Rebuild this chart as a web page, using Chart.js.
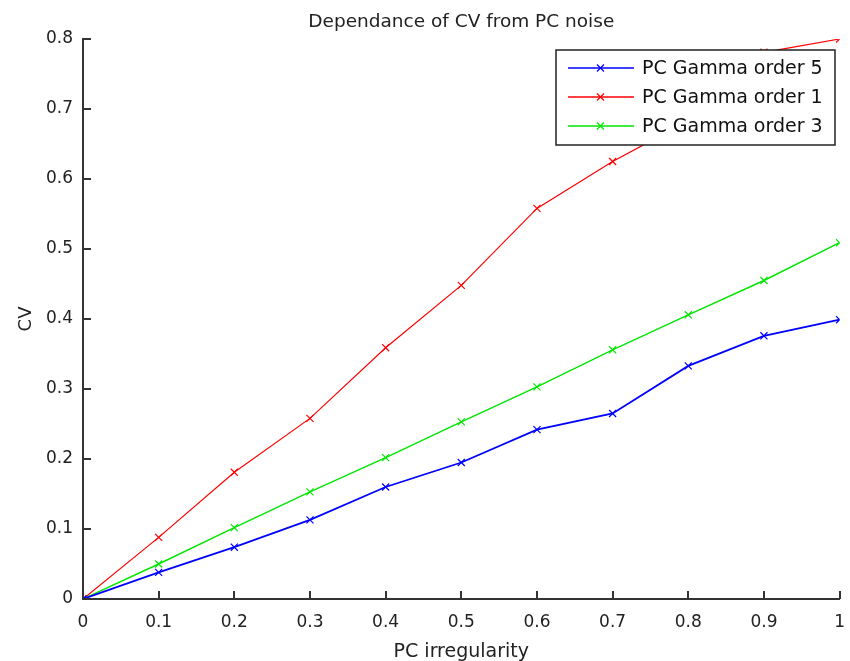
<!DOCTYPE html>
<html>
<head>
<meta charset="utf-8">
<script src="https://cdn.jsdelivr.net/npm/chart.js@4.4.1/dist/chart.umd.min.js"></script>
<style>
  html, body { margin: 0; padding: 0; background: #fff; }
  #wrap { width: 850px; height: 661px; }
</style>
</head>
<body>
<div id="wrap"><canvas id="myChart" width="850" height="661"></canvas></div>
<script>
const xValues = [0, 0.1, 0.2, 0.3, 0.4, 0.5, 0.6, 0.7, 0.8, 0.9, 1.0];
const gamma5 = [0, 0.038, 0.074, 0.113, 0.160, 0.195, 0.242, 0.265, 0.333, 0.376, 0.399];
const gamma1 = [0, 0.088, 0.181, 0.258, 0.359, 0.448, 0.558, 0.625, 0.683, 0.781, 0.800];
const gamma3 = [0, 0.050, 0.102, 0.153, 0.202, 0.253, 0.303, 0.356, 0.406, 0.455, 0.509];
const seriesNames = ['PC Gamma order 5', 'PC Gamma order 1', 'PC Gamma order 3'];
const titleText = 'Dependance of CV from PC noise';
const xLabel = 'PC irregularity';
const yLabel = 'CV';

const FONT = '"DejaVu Sans", "Liberation Sans", sans-serif';

function toPoints(ys) {
    return xValues.map((x, i) => ({ x: x, y: ys[i] }));
}

function makeSet(label, ys, color, width) {
    return {
        label: label,
        data: toPoints(ys),
        borderColor: color,
        backgroundColor: color,
        borderWidth: width,
        pointStyle: 'crossRot',
        pointRadius: 5,
        pointBorderWidth: 1.2,
        pointHoverRadius: 5,
        tension: 0
    };
}

// inward tick marks, title and boxed legend
const matlabLook = {
    id: 'matlabLook',
    afterDraw(chart) {
        const ctx = chart.ctx;
        const xs = chart.scales.x;
        const ys = chart.scales.y;
        const area = chart.chartArea;
        ctx.save();
        ctx.strokeStyle = '#333';
        ctx.lineWidth = 2;
        xs.ticks.forEach(t => {
            const px = Math.round(xs.getPixelForValue(t.value));
            ctx.beginPath();
            ctx.moveTo(px, area.bottom);
            ctx.lineTo(px, area.bottom - 8);
            ctx.stroke();
        });
        ys.ticks.forEach(t => {
            const py = Math.round(ys.getPixelForValue(t.value));
            ctx.beginPath();
            ctx.moveTo(area.left, py);
            ctx.lineTo(area.left + 8, py);
            ctx.stroke();
        });

        ctx.fillStyle = '#222';
        ctx.font = '18.5px ' + FONT;
        ctx.textAlign = 'center';
        ctx.textBaseline = 'middle';
        ctx.fillText(titleText, (area.left + area.right) / 2, 22);

        // legend box
        const bx = 556, by = 50, bw = 279, bh = 95;
        ctx.fillStyle = '#fff';
        ctx.fillRect(bx, by, bw, bh);
        ctx.strokeStyle = '#222';
        ctx.lineWidth = 1.5;
        ctx.strokeRect(bx, by, bw, bh);
        chart.data.datasets.forEach((ds, i) => {
            const ly = by + 18 + i * 29;
            ctx.strokeStyle = ds.borderColor;
            ctx.lineWidth = 1.5;
            ctx.beginPath();
            ctx.moveTo(bx + 12, ly);
            ctx.lineTo(bx + 78, ly);
            ctx.stroke();
            ctx.lineWidth = 1.2;
            ctx.beginPath();
            ctx.moveTo(bx + 41, ly - 3.5);
            ctx.lineTo(bx + 48, ly + 3.5);
            ctx.moveTo(bx + 48, ly - 3.5);
            ctx.lineTo(bx + 41, ly + 3.5);
            ctx.stroke();
            ctx.fillStyle = '#111';
            ctx.font = '19px ' + FONT;
            ctx.textAlign = 'left';
            ctx.fillText(ds.label, bx + 86, ly + 1);
        });
        ctx.restore();
    }
};

const ctx = document.getElementById('myChart').getContext('2d');
const chartInstance = new Chart(ctx, {
    type: 'line',
    data: {
        datasets: [
            makeSet(seriesNames[0], gamma5, '#0000ff', 1.8),
            makeSet(seriesNames[1], gamma1, '#ff0000', 1.2),
            makeSet(seriesNames[2], gamma3, '#00e600', 1.4)
        ]
    },
    options: {
        responsive: false,
        animation: false,
        layout: { padding: { top: 39, right: 3, left: 14, bottom: 0 } },
        plugins: {
            legend: { display: false },
            title: { display: false },
            tooltip: { enabled: false }
        },
        scales: {
            x: {
                type: 'linear',
                min: 0,
                max: 1,
                afterFit(scale) { scale.height = 62; },
                afterBuildTicks(scale) {
                    scale.ticks = xValues.map(v => ({ value: v }));
                },
                grid: { display: false },
                border: { display: true, color: '#333', width: 2 },
                ticks: {
                    color: '#222',
                    font: { family: FONT, size: 17 },
                    padding: 5,
                    maxRotation: 0,
                    callback: v => (v === 0 || v === 1) ? String(v) : v.toFixed(1)
                },
                title: {
                    display: true,
                    text: xLabel,
                    color: '#222',
                    font: { family: FONT, size: 19 },
                    padding: { top: 9, bottom: -2 }
                }
            },
            y: {
                min: 0,
                max: 0.8,
                afterFit(scale) { scale.width = 69; },
                grid: { display: false },
                border: { display: true, color: '#333', width: 2 },
                ticks: {
                    stepSize: 0.1,
                    color: '#222',
                    font: { family: FONT, size: 17 },
                    padding: 2,
                    callback: v => v === 0 ? '0' : v.toFixed(1)
                },
                title: {
                    display: true,
                    text: yLabel,
                    color: '#222',
                    font: { family: FONT, size: 18 },
                    padding: { top: 2, bottom: 0 }
                }
            }
        }
    },
    plugins: [matlabLook]
});
</script>
</body>
</html>
